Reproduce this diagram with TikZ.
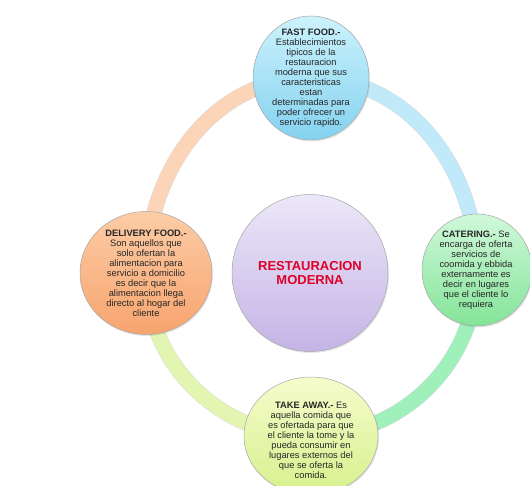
\documentclass[tikz,border=0pt]{standalone}
\usepackage{fontspec}
\setmainfont{Liberation Sans}
\usepackage{xcolor}
\definecolor{ringorange}{RGB}{252, 212, 184}
\definecolor{ringblue}{RGB}{192, 233, 250}
\definecolor{ringgreen}{RGB}{160, 240, 188}
\definecolor{ringlime}{RGB}{226, 246, 178}
\definecolor{titlered}{RGB}{222, 0, 40}
\usetikzlibrary{shapes.geometric,shadows,backgrounds,positioning}

\begin{document}
\begin{tikzpicture}[x=1pt, y=1pt,
    bubble/.style={ellipse, draw=gray!70, line width=0.5pt, inner sep=0pt,
        drop shadow={opacity=0.2, shadow xshift=1pt, shadow yshift=-1.5pt}},
    bubbletext/.style={align=center, font=\fontsize{9.3}{10}\selectfont, text=black!85},
    ringband/.style={draw=gray!30, line width=0.5pt, double=#1, double distance=14.5pt}]
    \useasboundingbox (0,0) rectangle (530,485);

    % Circles
    \node[bubble, minimum width=156, minimum height=157,
        top color={rgb,255:red,236;green,231;blue,248}, bottom color={rgb,255:red,196;green,180;blue,230}]
        (core) at (310, 212) {};
    \node[bubble, minimum width=116, minimum height=124,
        top color={rgb,255:red,204;green,242;blue,252}, bottom color={rgb,255:red,132;green,210;blue,240}]
        (fast) at (311, 407) {};
    \node[bubble, minimum width=132, minimum height=123,
        top color={rgb,255:red,252;green,204;blue,166}, bottom color={rgb,255:red,247;green,164;blue,110}]
        (delivery) at (146, 212) {};
    \node[bubble, minimum width=110, minimum height=112,
        top color={rgb,255:red,208;green,248;blue,218}, bottom color={rgb,255:red,132;green,228;blue,152}]
        (catering) at (477, 215) {};
    \node[bubble, minimum width=134, minimum height=118,
        top color={rgb,255:red,246;green,252;blue,204}, bottom color={rgb,255:red,214;green,240;blue,140}]
        (takeaway) at (311, 49) {};

    % Ring
    \begin{scope}[on background layer]
        \draw[ringband=ringorange] (fast.center) to[out=180, in=90] (delivery.center);
        \draw[ringband=ringblue] (fast.center) to[out=0, in=90] (catering.center);
        \draw[ringband=ringgreen] (catering.center) to[out=-90, in=0] (takeaway.center);
        \draw[ringband=ringlime] (delivery.center) to[out=-90, in=180] (takeaway.center);
    \end{scope}

    % Texts
    \node[align=center, font=\fontsize{13}{14.5}\selectfont\bfseries, text=titlered]
        (coretxt) at (core) {RESTAURACION\\MODERNA};
    \node[bubbletext] (fasttxt) at (fast) {\textbf{FAST FOOD.-}\\Establecimientos\\tipicos de la\\restauracion\\moderna que sus\\caracteristicas\\estan\\determinadas para\\poder ofrecer un\\servicio rapido.};
    \node[bubbletext] (deliverytxt) at (delivery) {\textbf{DELIVERY FOOD.-}\\Son aquellos que\\solo ofertan la\\alimentacion para\\servicio a domicilio\\es decir que la\\alimentacion llega\\directo al hogar del\\cliente};
    \node[bubbletext] (cateringtxt) at ([xshift=-1]catering) {\textbf{CATERING.-} Se\\encarga de oferta\\servicios de\\coomida y ebbida\\externamente es\\decir en lugares\\que el cliente lo\\requiera};
    \node[bubbletext] (takeawaytxt) at ([yshift=-4]takeaway) {\textbf{TAKE AWAY.-} Es\\aquella comida que\\es ofertada para que\\el cliente la tome y la\\pueda consumir en\\lugares externos del\\que se oferta la\\comida.};
\end{tikzpicture}
\end{document}
